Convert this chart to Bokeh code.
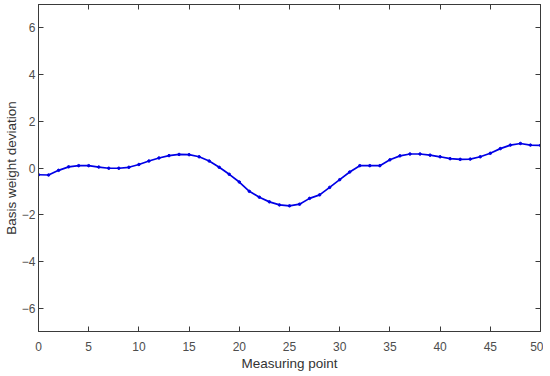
from bokeh.plotting import figure
from bokeh.models import LinearAxis, FixedTicker, Range1d
from bokeh.embed import file_html
from bokeh.resources import INLINE

points = list(range(0, 51))
deviation = [-0.29, -0.30, -0.10, 0.05, 0.10, 0.10, 0.04, -0.01, -0.01, 0.03,
             0.15, 0.30, 0.43, 0.53, 0.58, 0.57, 0.48, 0.30, 0.03, -0.27,
             -0.60, -1.00, -1.25, -1.45, -1.58, -1.62, -1.55, -1.30, -1.15, -0.83,
             -0.50, -0.17, 0.10, 0.10, 0.10, 0.35, 0.52, 0.60, 0.60, 0.55,
             0.48, 0.40, 0.37, 0.38, 0.48, 0.63, 0.83, 0.98, 1.05, 0.98,
             0.97]
x_ticks = [0, 5, 10, 15, 20, 25, 30, 35, 40, 45, 50]
y_ticks = [-6, -4, -2, 0, 2, 4, 6]

FONT = "Liberation Sans"
AX = "#3a3a3a"
LBL = "#4d4d4d"

p = figure(frame_width=502, frame_height=327, output_backend="svg",
           toolbar_location=None, x_range=Range1d(0, 50), y_range=Range1d(-7, 7),
           min_border_left=0, min_border_right=3, min_border_top=4, min_border_bottom=0)
p.xgrid.visible = False
p.ygrid.visible = False
p.outline_line_color = AX
p.outline_line_width = 1

p.line(points, deviation, line_color="#0000e6", line_width=1.7)
p.scatter(points, deviation, size=2.5, fill_color="#0000e6", line_color="#0000e6")

def style(ax, labels=True):
    ax.axis_line_color = AX
    ax.major_tick_line_color = AX
    ax.major_tick_in = 5
    ax.major_tick_out = 0
    ax.minor_tick_line_color = None
    ax.major_label_text_font = FONT
    ax.major_label_text_color = LBL
    ax.major_label_text_font_size = "12px"
    ax.major_label_standoff = 3 if labels else 0
    ax.axis_label_text_font = FONT
    ax.axis_label_text_color = "#333333"
    ax.axis_label_text_font_size = "13.5px"
    ax.axis_label_text_font_style = "normal"
    ax.axis_label_standoff = 0

p.xaxis.ticker = FixedTicker(ticks=x_ticks)
p.yaxis.ticker = FixedTicker(ticks=y_ticks)
p.xaxis.axis_label = "Measuring point"
p.yaxis.axis_label = "Basis weight deviation"
style(p.xaxis[0])
style(p.yaxis[0])
p.xaxis.major_label_standoff = 10
p.xaxis.axis_label_standoff = 2

top = LinearAxis(ticker=FixedTicker(ticks=x_ticks),
                 major_label_overrides={t: "" for t in x_ticks})
right = LinearAxis(ticker=FixedTicker(ticks=y_ticks),
                   major_label_overrides={t: "" for t in y_ticks})
style(top, labels=False)
style(right, labels=False)
p.add_layout(top, "above")
p.add_layout(right, "right")

open("out.html", "w").write(file_html(p, INLINE))
